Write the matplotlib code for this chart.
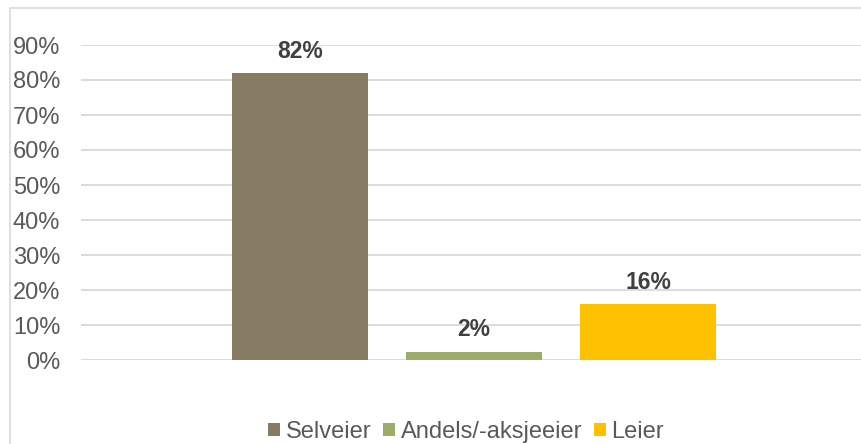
import matplotlib
matplotlib.use("Agg")
import matplotlib.pyplot as plt
from matplotlib.patches import Rectangle

series = ["Selveier", "Andels/-aksjeeier", "Leier"]
values = [82, 2.4, 16]
colors = ["#857a62", "#9bab68", "#ffc000"]
yticks = [0, 10, 20, 30, 40, 50, 60, 70, 80, 90]

plt.rcParams['font.family'] = ['Liberation Sans', 'DejaVu Sans']

W, H = 861, 444
fig = plt.figure(figsize=(W / 100, H / 100), dpi=100)

# outer frame
fig.patches.append(Rectangle((10 / W, -0.1), 1.2, (H - 8) / H + 0.1, transform=fig.transFigure,
                             fill=False, edgecolor="#d9d9d9", linewidth=1.2))

left, right = 81 / W, 867 / W
bottom, top = 1 - 360 / H, 1 - 45 / H
ax = fig.add_axes([left, bottom, right - left, top - bottom])

xs = [-1, 0, 1]
bw = 136 / 174
for x, v, c, s in zip(xs, values, colors, series):
    ax.bar(x, v, width=bw, color=c, label=s, zorder=3)
    ax.text(x, v + 3.0, f"{v:.0f}%", ha="center", va="bottom", fontsize=16.5,
            fontweight="bold", color="#404040", zorder=4)

ax.set_xlim(-1 - 0.5 * bw - (232 - 81) / 174, 1 + 0.5 * bw + (867 - 716) / 174)
ax.set_ylim(0, 90)
ax.set_yticks(yticks)
ax.set_yticklabels([f"{t}%" for t in yticks], fontsize=17, color="#595959")
ax.tick_params(axis="y", length=0, pad=15)
ax.set_xticks([])
ax.grid(axis="y", color="#d9d9d9", linewidth=1.3, zorder=0)
for sp in ax.spines.values():
    sp.set_visible(False)

handles, labels = ax.get_legend_handles_labels()
fig.legend(handles, labels, loc="center", bbox_to_anchor=(466 / W, 1 - 432 / H), ncol=3,
           frameon=False, fontsize=17, handlelength=0.5, handleheight=0.5,
           handletextpad=0.25, columnspacing=0.5, labelcolor="#595959")

fig.savefig("out.png", dpi=100)
